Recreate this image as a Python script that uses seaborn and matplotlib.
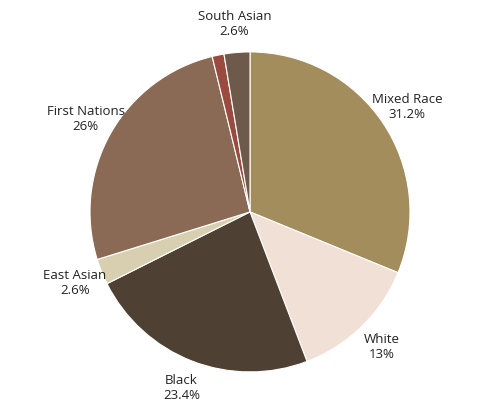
import matplotlib
matplotlib.use("Agg")
import matplotlib.pyplot as plt
import seaborn as sns

categories = ["Mixed Race", "White", "Black", "East Asian", "First Nations", "Other", "South Asian"]
values = [31.2, 13.0, 23.4, 2.6, 26.0, 1.2, 2.6]
labels = ["Mixed Race\n31.2%", "White\n13%", "Black\n23.4%", "East Asian\n2.6%", "First Nations\n26%", "", "South Asian\n2.6%"]
colors = ["#A38D5C", "#F0E0D6", "#4E4033", "#D8CFB0", "#8A6A55", "#9A4A3E", "#6E5A4A"]

sns.set_theme(style="white")
plt.rcParams['font.family'] = ['Open Sans', 'DejaVu Sans']

fig = plt.figure(figsize=(5, 4.18), dpi=100)
ax = fig.add_axes([0.18, 0.11, 0.64, 0.766])
wedges, texts = ax.pie(values, labels=labels, colors=colors, startangle=90, counterclock=False,
                       labeldistance=1.18, wedgeprops=dict(edgecolor="white", linewidth=0.8),
                       textprops=dict(fontsize=9.5, color="#222222"))
for t in texts:
    t.set_ha("center")
    t.set_va("center")
    t.set_clip_on(False)
ax.set_xlim(-1, 1)
ax.set_ylim(-1, 1)
ax.set_aspect("equal")
fig.savefig("out.png", dpi=100, facecolor="white")
